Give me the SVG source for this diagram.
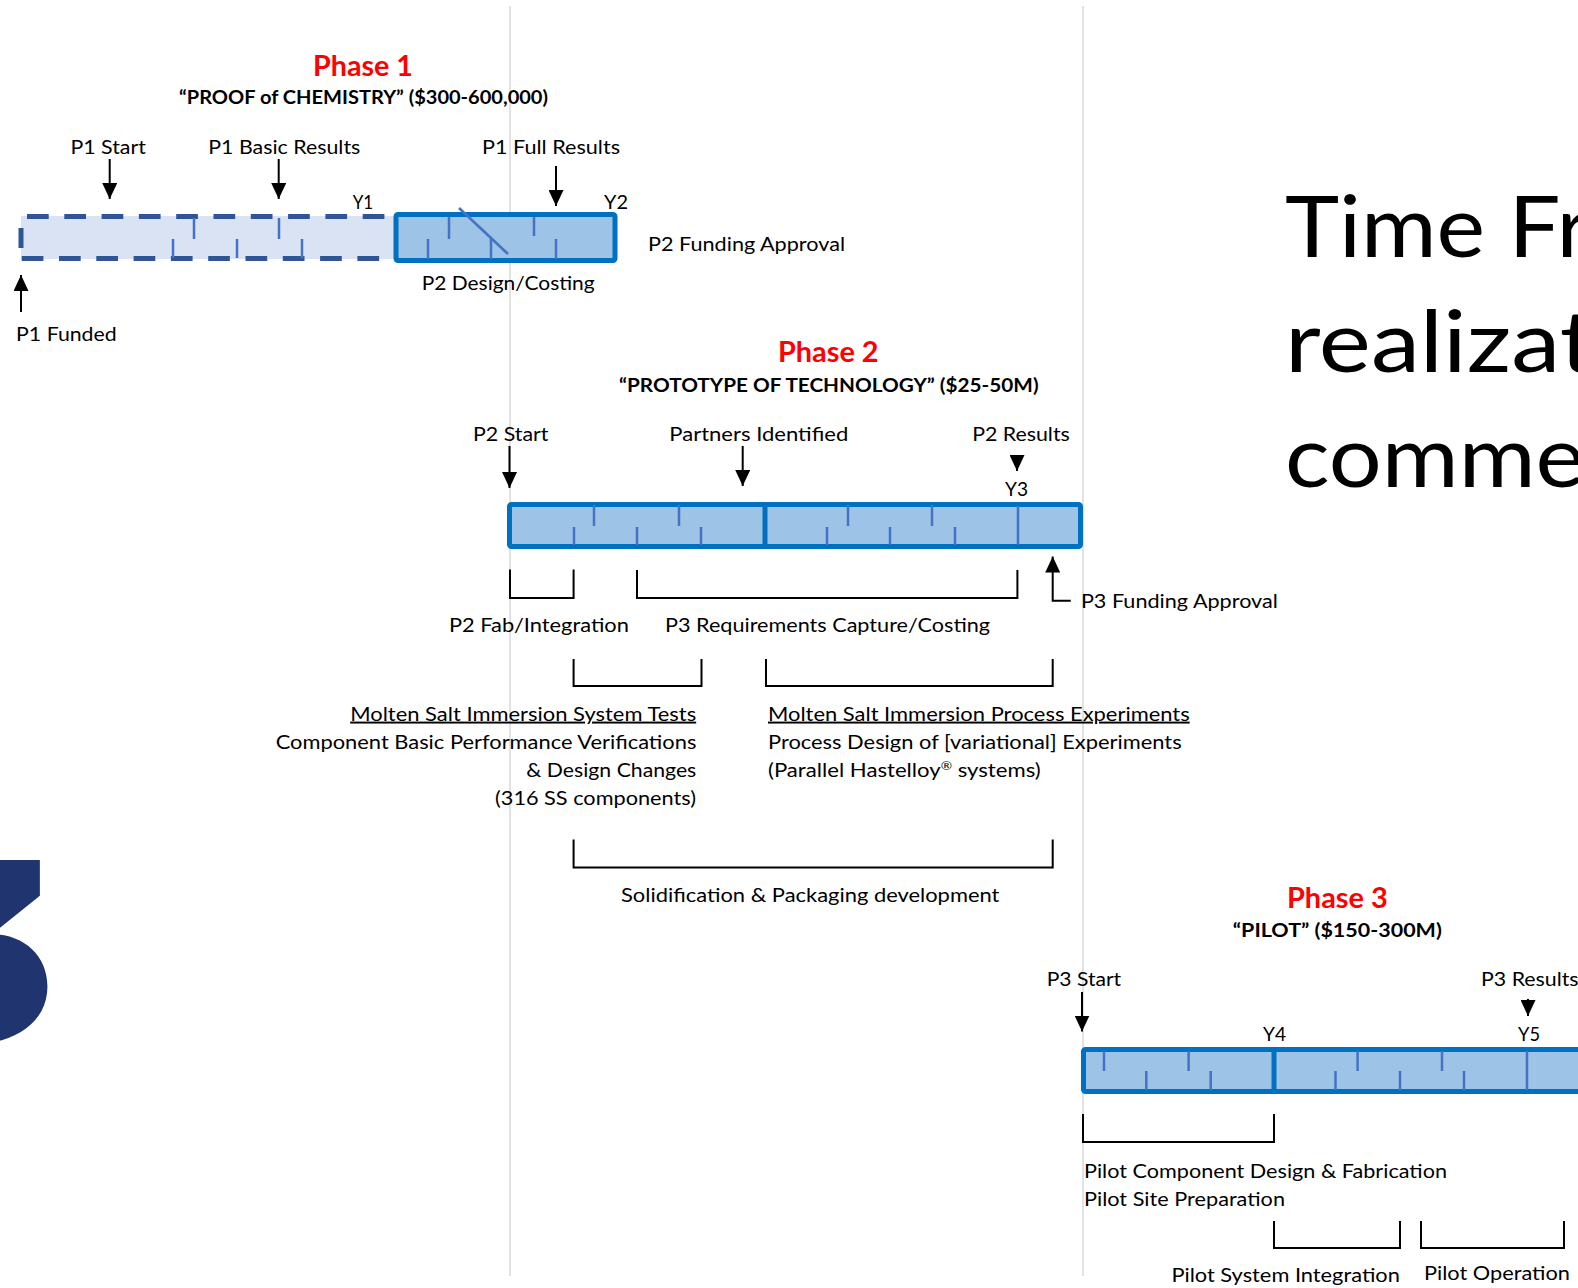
<svg xmlns="http://www.w3.org/2000/svg" width="1578" height="1288" viewBox="0 0 1578 1288">
<defs>
<style>
text{font-family:Lato,"Open Sans","Liberation Sans",sans-serif;fill:#000}
.l{font-size:19.5px}
.t{font-size:29px;font-weight:700;fill:#ff0000}
.s{font-size:19.5px;font-weight:700}
.big{font-size:85px}
.u{text-decoration:underline}
.grid{stroke:#d9d9d9;stroke-width:1.5}
.bar{fill:#9dc3e6;stroke:#0070c0;stroke-width:5}
.div{stroke:#0070c0;stroke-width:5}
.tick{stroke:#4472c4;stroke-width:2.5}
.dash{stroke:#2f5597;stroke-width:5;stroke-dasharray:21.7 15.6}
.arr{stroke:#000;stroke-width:2;fill:none;marker-end:url(#ah)}
.br{stroke:#000;stroke-width:2;fill:none}
</style>
<marker id="ah" viewBox="0 0 16 15" refX="16" refY="7.5" markerWidth="16" markerHeight="15" markerUnits="userSpaceOnUse" orient="auto"><path d="M0,0L16,7.5L0,15z" fill="#000"/></marker>
</defs>
<rect width="1578" height="1288" fill="#fff"/>
<g id="grid">
<line class="grid" x1="510" y1="6" x2="510" y2="1276"/>
<line class="grid" x1="1083" y1="6" x2="1083" y2="1276"/>
</g>
<g id="logo3">
<text x="56" y="1042" text-anchor="end" style="font-family:Inter,Lato,sans-serif;font-weight:900;font-size:250px;fill:#203470;font-feature-settings:'cv09'">3</text>
</g>
<g id="title">
<text class="big" x="1285" y="257" textLength="305" lengthAdjust="spacingAndGlyphs">Time Fr</text>
<text class="big" x="1285" y="372" textLength="310" lengthAdjust="spacingAndGlyphs">realizat</text>
<text class="big" x="1285" y="487" textLength="300" lengthAdjust="spacingAndGlyphs">comme</text>
</g>
<g id="phase1-head">
<text class="t" x="313" y="75.5" textLength="100" lengthAdjust="spacingAndGlyphs">Phase 1</text>
<text class="s" x="179" y="103.6" textLength="369" lengthAdjust="spacingAndGlyphs">“PROOF of CHEMISTRY” ($300-600,000)</text>
</g>
<g id="phase1-bar">
<rect x="21" y="216" width="374" height="43" fill="#dae3f3"/>
<line class="dash" x1="27" y1="216.5" x2="393" y2="216.5"/>
<line class="dash" x1="21.7" y1="258.5" x2="393" y2="258.5"/>
<line stroke="#2f5597" stroke-width="5" x1="21" y1="228" x2="21" y2="248"/>
<line class="tick" x1="194" y1="218" x2="194" y2="239"/>
<line class="tick" x1="279" y1="218" x2="279" y2="239"/>
<line class="tick" x1="173" y1="239" x2="173" y2="258"/>
<line class="tick" x1="237" y1="239" x2="237" y2="258"/>
<line class="tick" x1="302" y1="239" x2="302" y2="258"/>
<rect class="bar" x="396" y="214.5" width="219" height="46" rx="2"/>
<line class="tick" x1="449" y1="217" x2="449" y2="239"/>
<line class="tick" x1="534" y1="217" x2="534" y2="236"/>
<line class="tick" x1="428" y1="239" x2="428" y2="259"/>
<line class="tick" x1="491" y1="239" x2="491" y2="259"/>
<line class="tick" x1="556" y1="239" x2="556" y2="259"/>
<line class="tick" x1="459" y1="208" x2="508" y2="254"/>
</g>
<g id="phase1-labels">
<text class="l" x="70.4" y="154" textLength="75.5" lengthAdjust="spacingAndGlyphs">P1 Start</text>
<text class="l" x="208.3" y="154" textLength="152" lengthAdjust="spacingAndGlyphs">P1 Basic Results</text>
<text class="l" x="482" y="154" textLength="138" lengthAdjust="spacingAndGlyphs">P1 Full Results</text>
<text class="l" x="352.7" y="209" textLength="20.5" lengthAdjust="spacingAndGlyphs">Y1</text>
<text class="l" x="604" y="209" textLength="24" lengthAdjust="spacingAndGlyphs">Y2</text>
<text class="l" x="648" y="250.6" textLength="197" lengthAdjust="spacingAndGlyphs">P2 Funding Approval</text>
<text class="l" x="421.7" y="289.8" textLength="173" lengthAdjust="spacingAndGlyphs">P2 Design/Costing</text>
<text class="l" x="16.1" y="341" textLength="100.6" lengthAdjust="spacingAndGlyphs">P1 Funded</text>
</g>
<g id="phase2-head">
<text class="t" x="778" y="362.3" textLength="100.6" lengthAdjust="spacingAndGlyphs">Phase 2</text>
<text class="s" x="619" y="391.5" textLength="419.6" lengthAdjust="spacingAndGlyphs">“PROTOTYPE OF TECHNOLOGY” ($25-50M)</text>
</g>
<g id="phase2-bar">
<rect class="bar" x="509.5" y="504.5" width="571" height="42" rx="2"/>
<line class="div" x1="765" y1="504.5" x2="765" y2="546.5"/>
<line class="tick" x1="1018" y1="506" x2="1018" y2="545"/>
<line class="tick" x1="594" y1="505" x2="594" y2="526"/>
<line class="tick" x1="679" y1="505" x2="679" y2="526"/>
<line class="tick" x1="848" y1="505" x2="848" y2="526"/>
<line class="tick" x1="932" y1="505" x2="932" y2="526"/>
<line class="tick" x1="574" y1="527" x2="574" y2="545"/>
<line class="tick" x1="637" y1="527" x2="637" y2="545"/>
<line class="tick" x1="701" y1="527" x2="701" y2="545"/>
<line class="tick" x1="827" y1="527" x2="827" y2="545"/>
<line class="tick" x1="890" y1="527" x2="890" y2="545"/>
<line class="tick" x1="955" y1="527" x2="955" y2="545"/>
</g>
<g id="phase2-labels">
<text class="l" x="473" y="440.8" textLength="75.5" lengthAdjust="spacingAndGlyphs">P2 Start</text>
<text class="l" x="669.3" y="440.8" textLength="179" lengthAdjust="spacingAndGlyphs">Partners Identified</text>
<text class="l" x="972.2" y="440.8" textLength="97.6" lengthAdjust="spacingAndGlyphs">P2 Results</text>
<text class="l" x="1005" y="496" textLength="23" lengthAdjust="spacingAndGlyphs">Y3</text>
<text class="l" x="1080.9" y="608" textLength="197" lengthAdjust="spacingAndGlyphs">P3 Funding Approval</text>
<text class="l" x="448.9" y="632" textLength="180" lengthAdjust="spacingAndGlyphs">P2 Fab/Integration</text>
<text class="l" x="665" y="632" textLength="325" lengthAdjust="spacingAndGlyphs">P3 Requirements Capture/Costing</text>
<text class="l u" x="350.2" y="720.6" textLength="346" lengthAdjust="spacingAndGlyphs">Molten Salt Immersion System Tests</text>
<text class="l" x="275.7" y="748.8" textLength="420.7" lengthAdjust="spacingAndGlyphs">Component Basic Performance Verifications</text>
<text class="l" x="526.3" y="777" textLength="170" lengthAdjust="spacingAndGlyphs">&amp; Design Changes</text>
<text class="l" x="495" y="805" textLength="201" lengthAdjust="spacingAndGlyphs">(316 SS components)</text>
<text class="l u" x="768" y="720.6" textLength="421.7" lengthAdjust="spacingAndGlyphs">Molten Salt Immersion Process Experiments</text>
<text class="l" x="768" y="748.8" textLength="413.6" lengthAdjust="spacingAndGlyphs">Process Design of [variational] Experiments</text>
<text class="l" x="768" y="777" textLength="272.7" lengthAdjust="spacingAndGlyphs">(Parallel Hastelloy<tspan font-size="12" dy="-7">®</tspan><tspan dy="7"> systems)</tspan></text>
<text class="l" x="621" y="901.7" textLength="378.4" lengthAdjust="spacingAndGlyphs">Solidification &amp; Packaging development</text>
</g>
<g id="phase3-head">
<text class="t" x="1287" y="907.8" textLength="100.8" lengthAdjust="spacingAndGlyphs">Phase 3</text>
<text class="s" x="1232.8" y="937" textLength="209" lengthAdjust="spacingAndGlyphs">“PILOT” ($150-300M)</text>
</g>
<g id="phase3-bar">
<rect class="bar" x="1083.5" y="1049.5" width="600" height="42" rx="2"/>
<line class="div" x1="1274" y1="1049.5" x2="1274" y2="1091.5"/>
<line class="tick" x1="1527" y1="1051" x2="1527" y2="1090"/>
<line class="tick" x1="1104" y1="1051" x2="1104" y2="1071"/>
<line class="tick" x1="1188.6" y1="1051" x2="1188.6" y2="1071"/>
<line class="tick" x1="1357.6" y1="1051" x2="1357.6" y2="1071"/>
<line class="tick" x1="1442" y1="1051" x2="1442" y2="1071"/>
<line class="tick" x1="1146.3" y1="1071" x2="1146.3" y2="1090"/>
<line class="tick" x1="1210.7" y1="1071" x2="1210.7" y2="1090"/>
<line class="tick" x1="1335.5" y1="1071" x2="1335.5" y2="1090"/>
<line class="tick" x1="1400" y1="1071" x2="1400" y2="1090"/>
<line class="tick" x1="1464" y1="1071" x2="1464" y2="1090"/>
</g>
<g id="phase3-labels">
<text class="l" x="1046.7" y="986.3" textLength="74.5" lengthAdjust="spacingAndGlyphs">P3 Start</text>
<text class="l" x="1481" y="986.3" textLength="97.6" lengthAdjust="spacingAndGlyphs">P3 Results</text>
<text class="l" x="1263" y="1040.6" textLength="23" lengthAdjust="spacingAndGlyphs">Y4</text>
<text class="l" x="1518" y="1040.6" textLength="22" lengthAdjust="spacingAndGlyphs">Y5</text>
<text class="l" x="1084" y="1177.5" textLength="363" lengthAdjust="spacingAndGlyphs">Pilot Component Design &amp; Fabrication</text>
<text class="l" x="1084" y="1205.7" textLength="201" lengthAdjust="spacingAndGlyphs">Pilot Site Preparation</text>
<text class="l" x="1171.4" y="1282" textLength="228.5" lengthAdjust="spacingAndGlyphs">Pilot System Integration</text>
<text class="l" x="1424" y="1280" textLength="146" lengthAdjust="spacingAndGlyphs">Pilot Operation</text>
</g>
<g id="connectors">
<path class="arr" d="M109.7,159V199"/>
<path class="arr" d="M278.7,159V199"/>
<path class="arr" d="M556,166V206"/>
<path class="arr" d="M21,312V275"/>
<path class="arr" d="M509.5,446V488"/>
<path class="arr" d="M742.7,446V486"/>
<path class="arr" d="M1017,455V471"/>
<path class="arr" d="M1070.8,600.8H1052.7V556.5"/>
<path class="arr" d="M1082,992V1031.5"/>
<path class="arr" d="M1528,999V1016"/>
<path class="br" d="M510,569.6V598H573.6V569.6"/>
<path class="br" d="M637,570V598H1017.4V570"/>
<path class="br" d="M573.6,659V686H701.5V659"/>
<path class="br" d="M766,659V686H1052.7V659"/>
<path class="br" d="M573.6,839.4V867.5H1052.7V839.4"/>
<path class="br" d="M1083,1114V1142H1274V1114"/>
<path class="br" d="M1274,1221V1248H1400V1221"/>
<path class="br" d="M1421,1221V1248H1564V1221"/>
</g>
</svg>
